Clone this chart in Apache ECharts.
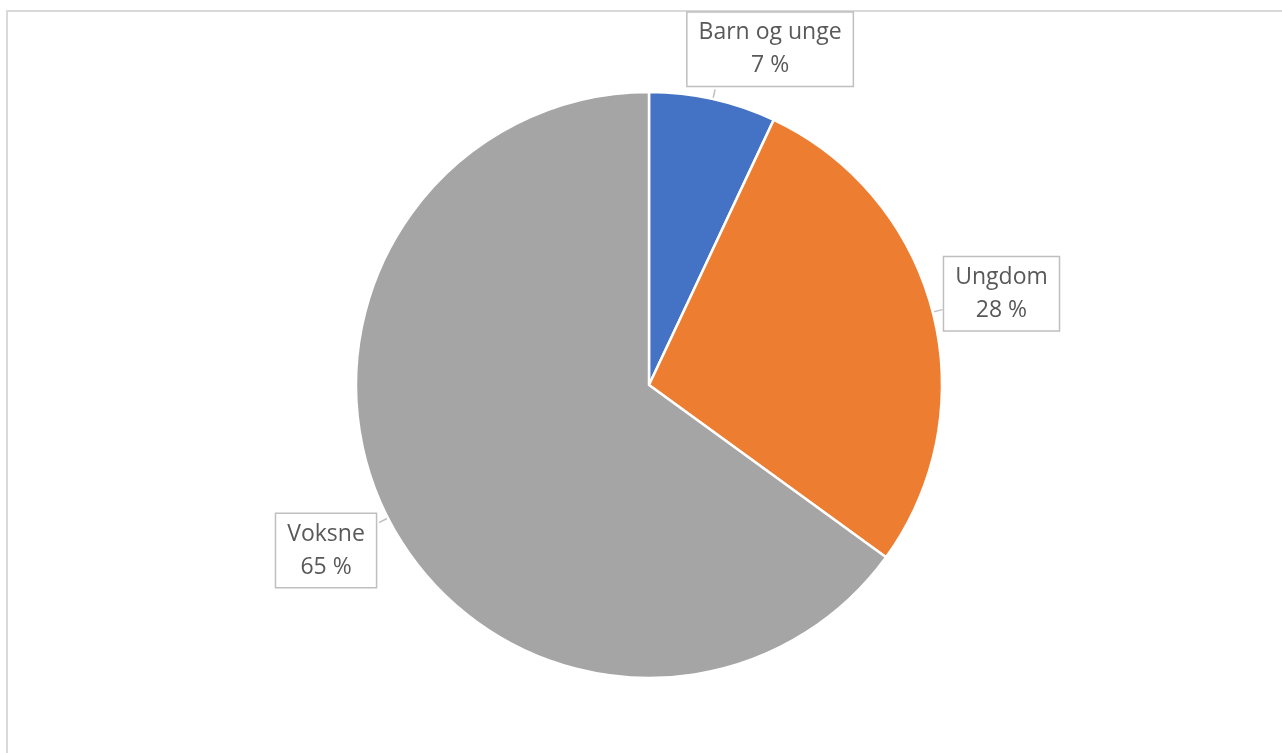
<!DOCTYPE html>
<html><head><meta charset="utf-8">
<script src="https://cdn.jsdelivr.net/npm/echarts@6/dist/echarts.min.js"></script>
<style>
html,body{margin:0;padding:0;background:#fff;}
#frame{position:absolute;left:6px;top:10px;width:1276px;height:760px;border-left:2px solid #d9d9d9;border-top:2px solid #d9d9d9;box-sizing:border-box;}
#c{position:absolute;left:0;top:0;width:1282px;height:753px;}
</style></head>
<body>
<div id="frame"></div>
<div id="c"></div>
<script>
const categories = ['Barn og unge', 'Ungdom', 'Voksne'];
const values = [7, 28, 65];
const colors = ['#4472C4', '#ED7D31', '#A5A5A5'];
const labelOffsets = [[50, -40], [54, -16], [-48, 28]];

const chart = echarts.init(document.getElementById('c'));
chart.setOption({
  animation: false,
  series: [{
    type: 'pie',
    center: [649, 385],
    radius: [0, 293],
    startAngle: 90,
    clockwise: true,
    data: categories.map((n, i) => ({ name: n, value: values[i], itemStyle: { color: colors[i] } })),
    itemStyle: { borderColor: '#fff', borderWidth: 2.5 },
    label: {
      show: true,
      position: 'outside',
      formatter: p => p.name + '\n' + p.value + ' %',
      fontFamily: 'Open Sans',
      fontSize: 23,
      color: '#595959',
      lineHeight: 33,
      backgroundColor: '#fff',
      borderColor: '#bfbfbf',
      borderWidth: 1.5,
      padding: [4, 11, 3, 11]
    },
    labelLine: { show: true, length: 10, length2: 0, lineStyle: { color: '#bfbfbf', width: 1.5 } },
    labelLayout: p => ({
      align: 'center',
      verticalAlign: 'middle',
      dx: labelOffsets[p.dataIndex][0],
      dy: labelOffsets[p.dataIndex][1]
    })
  }]
});
</script>
</body></html>
